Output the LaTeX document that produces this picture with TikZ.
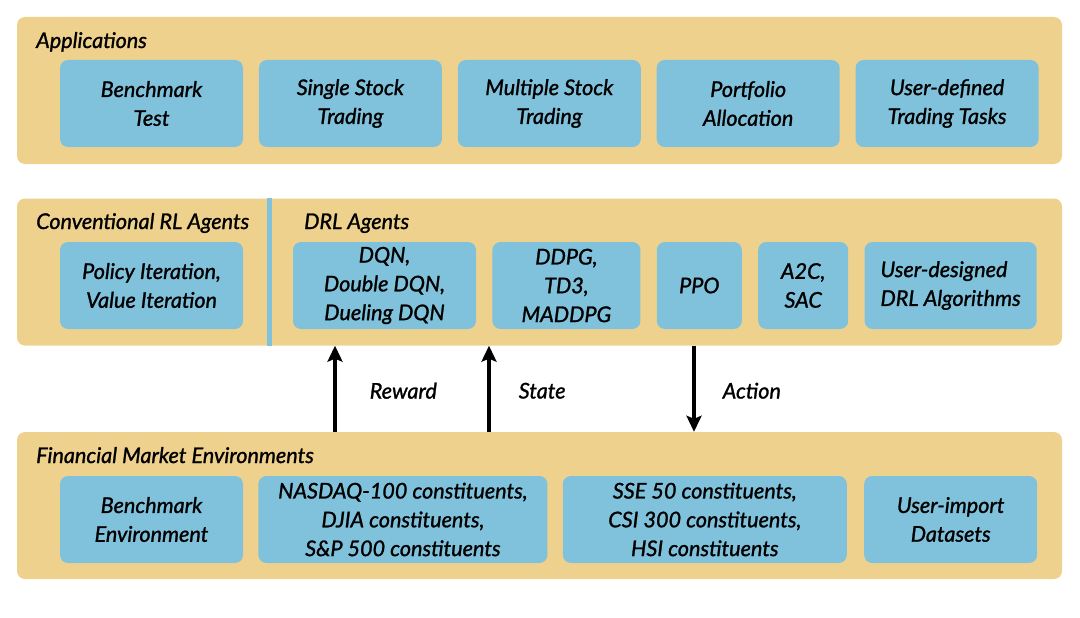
\documentclass[tikz,border=0pt]{standalone}
\usepackage{fontspec}
\setmainfont{Lato}[ItalicFeatures={FakeBold=1.2}]
\usetikzlibrary{positioning,arrows.meta}

\definecolor{panelcol}{RGB}{239,209,142}
\definecolor{boxcol}{RGB}{128,194,220}

\tikzset{
  panel/.style={fill=panelcol, rounded corners=8pt, minimum width=1045pt, minimum height=147pt, inner sep=0pt},
  item/.style={fill=boxcol, rounded corners=8pt, minimum height=87pt, inner sep=0pt, align=center,
    font=\fontsize{21.6}{28.8}\selectfont\itshape},
  paneltitle/.style={anchor=base west, inner sep=0pt, font=\fontsize{21.6}{28.8}\selectfont\itshape},
  flowlabel/.style={inner sep=0pt, yshift=-2pt, font=\fontsize{21.6}{28.8}\selectfont\itshape},
  flow/.style={-{Stealth[length=16pt,width=15pt,inset=3pt]}, line width=3.5pt}
}

\begin{document}
\begin{tikzpicture}[x=1pt, y=-1pt, node distance=15.5pt]
    \useasboundingbox (0,0) rectangle (1080,618);

    % three layers
    \node[panel] (apps) at (539.5,90.5) {};
    \node[panel] (agents) at (539.5,272) {};
    \node[panel] (env) at (539.5,505.5) {};

    \coordinate (split) at (269.5,198);
    \draw[boxcol, line width=5pt] (split) -- (split |- agents.south);

    \node[paneltitle] (appstitle) at (36,48) {Applications};
    \node[paneltitle] (convtitle) at (36,229) {Conventional RL Agents};
    \node[paneltitle] (drltitle) at (304,229) {DRL Agents};
    \node[paneltitle] (envtitle) at (36,463) {Financial Market Environments};

    % applications
    \node[item, minimum width=183pt] (bench) at (151.5,103.5) {Benchmark\\Test};
    \node[item, minimum width=183pt, right=of bench] (single) {Single Stock\\Trading};
    \node[item, minimum width=183pt, right=of single] (multiple) {Multiple Stock\\Trading};
    \node[item, minimum width=183pt, right=of multiple] (portfolio) {Portfolio\\Allocation};
    \node[item, minimum width=183pt, right=of portfolio] (usertask) {User-defined\\Trading Tasks};

    % agents
    \node[item, minimum width=183pt] (policy) at (151.5,285.5) {Policy Iteration,\\Value Iteration};
    \node[item, minimum width=183pt] (dqn) at (384.5,285.5) {DQN,\\Double DQN,\\Dueling DQN};
    \node[item, minimum width=148pt, right=16pt of dqn] (ddpg) {DDPG,\\TD3,\\MADDPG};
    \node[item, minimum width=85pt, right=16pt of ddpg] (ppo) {PPO};
    \node[item, minimum width=90pt, right=16pt of ppo] (atwoc) {A2C,\\SAC};
    \node[item, minimum width=172pt, right=16pt of atwoc, align=left] (userdrl) {User-designed\\DRL Algorithms};

    % environments
    \node[item, minimum width=183pt] (benchenv) at (151.5,519.5) {Benchmark\\Environment};
    \node[item, minimum width=289pt, right=15pt of benchenv] (usmarket) {NASDAQ-100 constituents,\\DJIA constituents,\\S\&P 500 constituents};
    \node[item, minimum width=284pt, right=15pt of usmarket] (cnmarket) {SSE 50 constituents,\\CSI 300 constituents,\\HSI constituents};
    \node[item, minimum width=173pt, right=17pt of cnmarket] (userdata) {User-import\\Datasets};

    % interaction
    \coordinate (rw) at (335,0);
    \coordinate (st) at (489,0);
    \coordinate (ac) at (694,0);
    \draw[flow] (env.north -| rw) -- node[flowlabel, right=33pt] {Reward} (agents.south -| rw);
    \draw[flow] (env.north -| st) -- node[flowlabel, right=28pt] {State} (agents.south -| st);
    \draw[flow] (agents.south -| ac) -- node[flowlabel, right=27pt] {Action} (env.north -| ac);
\end{tikzpicture}
\end{document}
